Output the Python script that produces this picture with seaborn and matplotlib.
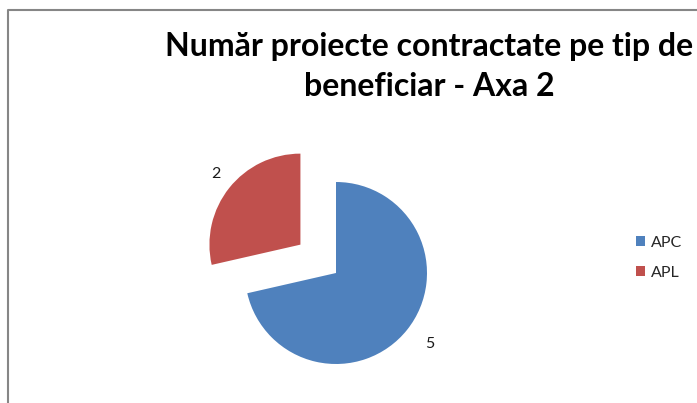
import matplotlib
matplotlib.use('agg')
import matplotlib.pyplot as plt
import seaborn as sns

# data
CATEGORIES = ['APC', 'APL']
VALUES = [5, 2]
TITLE_LINES = ['Număr proiecte contractate pe tip de', 'beneficiar - Axa 2']

COLORS = sns.color_palette(['#4F81BD', '#C0504D'])
BORDER_GRAY = '#868686'

W, H = 697, 403
RADIUS = 91

sns.set_theme(style='white')
plt.rcParams['font.family'] = ['Lato', 'DejaVu Sans']

fig = plt.figure(figsize=[W / 100, H / 100], dpi=100)
fig.patch.set_facecolor('white')

# one axes spanning the figure, in pixel units (y up)
ax = fig.add_axes([0, 0, 1, 1])
ax.set_xlim(0, W)
ax.set_ylim(0, H)
ax.set_aspect('equal')
ax.axis('off')

# chart area border, cut by the right and bottom of the picture
ax.plot([7.5, 7.5, W + 5], [-5, H - 9.5, H - 9.5], color=BORDER_GRAY, lw=1.5,
        solid_capstyle='butt', clip_on=False)

# explode is in data units here, so scale it by the radius
wedges, texts = ax.pie(VALUES, labels=[str(v) for v in VALUES], colors=COLORS,
                       startangle=90, counterclock=False,
                       explode=[0, 0.5 * RADIUS],
                       center=(336, H - 273), radius=RADIUS, labeldistance=1.25,
                       wedgeprops={'linewidth': 0},
                       textprops={'fontsize': 11.5, 'color': '#1a1a1a'})
ax.set_xlim(0, W)
ax.set_ylim(0, H)

for i, line in enumerate(TITLE_LINES):
    fig.text(429.5 / W, 1 - (56 + 40 * i) / H, line, ha='center',
             va='baseline', fontsize=23, fontweight='bold', color='black')

fig.legend(wedges, CATEGORIES, loc='upper left',
           bbox_to_anchor=(636 / W, 1 - 236 / H), frameon=False,
           borderpad=0, borderaxespad=0, handlelength=0.56, handleheight=0.56,
           handletextpad=0.4, labelspacing=1.0, fontsize=11.5)

fig.savefig('out.png', dpi=100)
